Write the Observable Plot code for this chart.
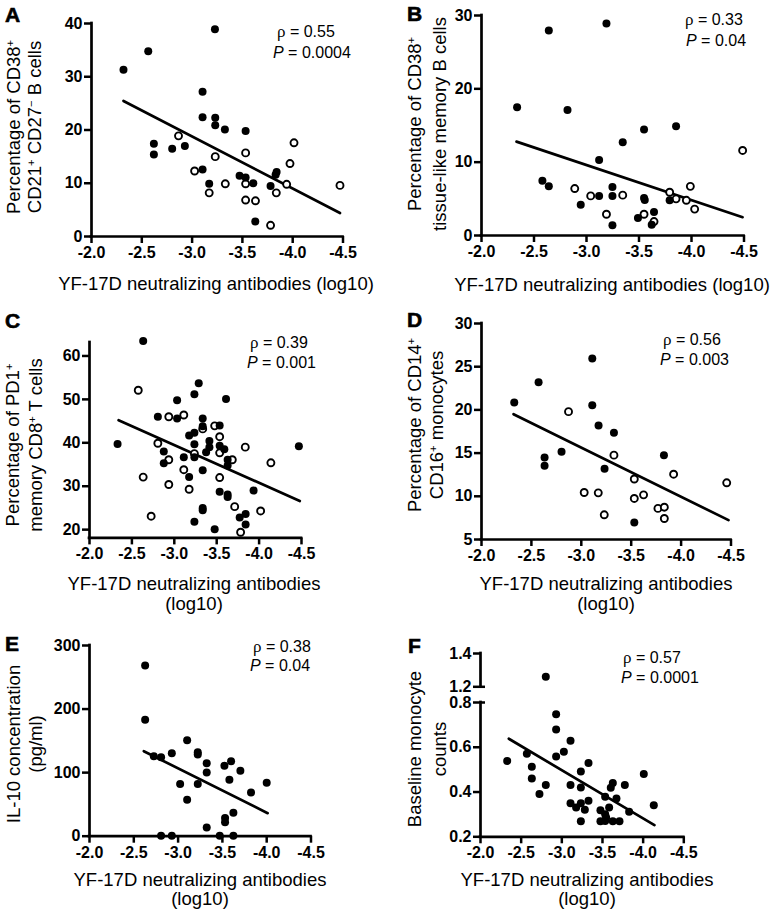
<!DOCTYPE html>
<html><head><meta charset="utf-8">
<script src="https://cdn.jsdelivr.net/npm/d3@7"></script>
<script src="https://cdn.jsdelivr.net/npm/@observablehq/plot@0.6"></script>
<style>
html,body{margin:0;padding:0;background:#fff;}
#fig{position:relative;width:778px;height:915px;overflow:hidden;background:#fff;font-family:"Liberation Sans",Arial,Helvetica,sans-serif;}
.panel{position:absolute;}
.panel svg{overflow:visible;background:transparent;}
.panel svg text{font-family:"Liberation Sans",Arial,sans-serif !important;font-weight:700 !important;font-size:16px !important;fill:#000;}
.panel svg [aria-label$="axis tick"], .panel svg .tick line{stroke-width:2.5px;stroke:#000;}
#overlay{position:absolute;left:0;top:0;pointer-events:none;}
</style></head><body><div id="fig"></div>
<script>
// ---------- data ----------
const xTicks = [-2, -2.5, -3, -3.5, -4, -4.5];

const aFilled = [[-3.227,38.9],[-2.564,34.8],[-2.318,31.3],[-3.104,27.2],[-3.104,22.4],[-3.23,22.3],[-3.23,20.9],[-3.326,20.1],[-3.532,19.8],[-2.62,17.4],[-2.62,15.4],[-2.802,16.5],[-2.928,17.0],[-3.104,12.6],[-3.472,11.4],[-3.532,11.1],[-3.608,10.0],[-3.17,9.9],[-3.78,9.5],[-3.83,11.6],[-3.84,12.1],[-3.628,2.8]];
const aOpen = [[-2.865,18.9],[-3.23,15.0],[-3.532,15.7],[-4.013,17.6],[-3.973,13.7],[-3.025,12.3],[-3.33,9.9],[-3.532,9.9],[-3.17,8.2],[-3.837,8.2],[-3.94,9.8],[-4.47,9.6],[-3.532,6.85],[-3.63,6.7],[-3.78,2.1]];
const aFit = [[-2.318,25.45],[-4.47,4.41]];
const aYTicks = [0,10,20,30,40];

const bFilled = [[-3.19,28.9],[-2.641,27.95],[-2.339,17.5],[-2.819,17.1],[-3.853,14.9],[-3.548,14.45],[-3.345,12.7],[-3.12,10.3],[-2.58,7.45],[-2.641,6.7],[-3.247,6.6],[-3.12,5.4],[-3.247,5.4],[-3.548,5.1],[-3.555,4.85],[-2.945,4.2],[-3.792,4.8],[-3.643,3.2],[-3.49,2.4],[-3.247,1.4],[-3.621,1.45]];
const bOpen = [[-4.487,11.6],[-2.888,6.4],[-3.04,5.4],[-3.345,5.5],[-3.792,5.9],[-3.853,5.0],[-3.951,4.8],[-3.989,6.7],[-4.03,3.6],[-3.19,2.9],[-3.548,2.9],[-3.643,1.9]];
const bFit = [[-2.333,12.8],[-4.487,2.5]];
const bYTicks = [0,10,20,30];

const cFilled = [[-2.633,63.45],[-3.288,53.7],[-3.237,51.2],[-3.033,49.8],[-3.61,50.1],[-2.806,46.0],[-3.033,45.6],[-3.335,45.6],[-3.335,43.8],[-3.535,44.0],[-3.175,41.7],[-3.237,42.3],[-2.331,39.7],[-4.469,39.2],[-3.414,40.4],[-3.414,39.0],[-3.237,39.65],[-3.535,39.3],[-3.59,38.5],[-3.375,37.8],[-2.876,38.0],[-3.112,36.7],[-3.237,36.7],[-2.876,35.3],[-3.629,36.1],[-3.629,34.8],[-3.335,33.7],[-3.175,32.1],[-3.935,29.0],[-3.535,28.7],[-3.629,28.1],[-3.629,27.5],[-3.335,25.0],[-3.335,24.45],[-3.841,23.6],[-3.771,22.8],[-3.841,21.2],[-3.237,21.8],[-3.476,20.1]];
const cOpen = [[-2.575,52.1],[-2.935,46.0],[-3.112,46.4],[-3.335,43.2],[-3.476,43.9],[-3.535,41.4],[-2.806,39.9],[-3.837,39.0],[-3.535,37.7],[-3.237,37.5],[-2.935,36.1],[-3.684,36.1],[-4.139,35.4],[-3.112,33.8],[-2.633,32.1],[-2.935,30.4],[-3.535,32.0],[-3.175,29.3],[-3.712,25.3],[-4.018,24.3],[-2.727,23.1],[-3.782,19.4]];
const cFit = [[-2.343,45.2],[-4.48,26.6]];
const cYTicks = [20,30,40,50,60];

const dFilled = [[-3.11,25.95],[-2.572,23.2],[-2.328,20.85],[-3.11,20.55],[-3.173,18.2],[-3.327,17.35],[-2.802,15.15],[-2.632,14.5],[-2.632,13.55],[-3.828,14.75],[-3.233,13.2],[-3.531,6.97]];
const dOpen = [[-2.872,19.8],[-3.327,14.76],[-3.925,12.56],[-3.531,12.0],[-4.457,11.56],[-3.029,10.44],[-3.17,10.4],[-3.624,10.17],[-3.531,9.75],[-3.768,8.6],[-3.832,8.74],[-3.23,7.86],[-3.832,7.43]];
const dFit = [[-2.321,19.5],[-4.475,7.24]];
const dYTicks = [5,10,15,20,25,30];

const eFilled = [[-2.628,268.5],[-2.628,183],[-2.726,125.9],[-2.808,124.3],[-2.929,130.6],[-3.102,151],[-3.222,132.2],[-3.222,128.5],[-3.323,114.9],[-3.323,100.2],[-3.023,82.3],[-3.222,82.3],[-3.102,57.2],[-3.523,110.7],[-3.598,118],[-3.703,102.8],[-3.579,88.6],[-3.823,68.7],[-4.0,83.9],[-3.624,36.7],[-3.53,28.8],[-3.53,22.0],[-3.323,13.6],[-2.808,0.5],[-2.929,0.5],[-3.47,0.5],[-3.624,0.5]];
const eOpen = [];
const eFit = [[-2.613,133.7],[-4.011,36.2]];
const eYTicks = [0,100,200,300];

const fFilled = [[-2.803,1.26],[-2.93,0.748],[-2.93,0.679],[-3.107,0.629],[-3.025,0.58],[-2.93,0.559],[-2.328,0.539],[-2.57,0.571],[-2.631,0.513],[-2.631,0.461],[-2.803,0.431],[-2.725,0.391],[-3.328,0.53],[-3.234,0.492],[-3.107,0.431],[-3.234,0.42],[-3.107,0.35],[-3.234,0.35],[-3.176,0.331],[-3.283,0.321],[-3.328,0.361],[-3.234,0.27],[-3.533,0.379],[-3.475,0.319],[-3.533,0.301],[-3.582,0.331],[-3.545,0.286],[-3.475,0.27],[-3.533,0.271],[-3.602,0.419],[-3.627,0.44],[-3.672,0.371],[-3.627,0.27],[-3.709,0.27],[-3.775,0.431],[-3.828,0.312],[-4.008,0.48],[-4.131,0.341]];
const fOpen = [];
const fFit = [[-2.348,0.638],[-4.139,0.252]];
const fYTicks = [0.2,0.4,0.6,0.8,1.2,1.4];

const panelLetters = ["A","B","C","D","E","F"];
const rhoValues = ["0.55","0.33","0.39","0.56","0.38","0.57"];
const pValues = ["0.0004","0.04","0.001","0.003","0.04","0.0001"];
const yTitles = [
  ["Percentage of CD38^+", "CD21^+ CD27^− B cells"],
  ["Percentage of CD38^+", "tissue-like memory B cells"],
  ["Percentage of PD1^+", "memory CD8^+ T cells"],
  ["Percentage of CD14^+", "CD16^+ monocytes"],
  ["IL-10 concentration", "(pg/ml)"],
  ["Baseline monocyte", "counts"]
];
const xTitleLines = [
  ["YF-17D neutralizing antibodies (log10)"],
  ["YF-17D neutralizing antibodies (log10)"],
  ["YF-17D neutralizing antibodies", "(log10)"],
  ["YF-17D neutralizing antibodies", "(log10)"],
  ["YF-17D neutralizing antibodies", "(log10)"],
  ["YF-17D neutralizing antibodies", "(log10)"]
];

// ---------- layout ----------
const intFmt = d => String(d);
const dec1 = d => d.toFixed(1);
const panels = [
  {filled:aFilled, open:aOpen, fit:aFit, yTicks:aYTicks, yFmt:intFmt, x0:90.5, x1:342, yDomain:[0,40], yRangeAbs:[235.5,22.5],
   letter:[5,22], yt:{c:[19.7,41.4], cy:127}, xt:{cx:216, bl:[290]}, st:{rho:[277,37], p:[273,58]}},
  {filled:bFilled, open:bOpen, fit:bFit, yTicks:bYTicks, yFmt:intFmt, x0:481, x1:743.5, yDomain:[0,30], yRangeAbs:[235,15],
   letter:[407,21], yt:{c:[421.4,445.7], cy:124}, xt:{cx:612, bl:[291]}, st:{rho:[685,25], p:[686,46]}},
  {filled:cFilled, open:cOpen, fit:cFit, yTicks:cYTicks, yFmt:intFmt, x0:89, x1:301, yDomain:[18.1,63.1], yRangeAbs:[537.7,342.3],
   letter:[5,328], yt:{c:[18.7,41.7], cy:445}, xt:{cx:194, bl:[590,610]}, st:{rho:[250,348], p:[247,368]}},
  {filled:dFilled, open:dOpen, fit:dFit, yTicks:dYTicks, yFmt:intFmt, x0:481, x1:730.5, yDomain:[5,30], yRangeAbs:[539.3,323.3],
   letter:[407,327], yt:{c:[420.7,442.7], cy:425}, xt:{cx:606, bl:[590,610]}, st:{rho:[663,345], p:[660,365]}},
  {filled:eFilled, open:eOpen, fit:eFit, yTicks:eYTicks, yFmt:intFmt, x0:88.5, x1:310, yDomain:[0,300], yRangeAbs:[835.7,645],
   letter:[5,651], yt:{c:[19.7,41.7], cy:744}, xt:{cx:200, bl:[886,905]}, st:{rho:[253,652], p:[250,671]}},
  {filled:fFilled, open:fOpen, fit:fFit, yTicks:fYTicks, yFmt:dec1, x0:480, x1:683.3, yDomain:[0.2,0.8,1.2,1.4], yRangeAbs:[836,701.7,686,652.7],
   segments:[[0.2,0.8],[1.2,1.4]], breaks:[0.8,1.2],
   letter:[408,653], yt:{c:[420.7,445.7], cy:749}, xt:{cx:587, bl:[886,905]}, st:{rho:[623,663], p:[621,683]}}
];

const fig = document.getElementById("fig");
const X = d => d[0], Y = d => d[1];

panels.forEach(p => {
  const mL = 50, mR = 22, mT = 12, mB = 36;
  const w = p.x1 - p.x0;
  const yTop = d3.min(p.yRangeAbs), yBot = d3.max(p.yRangeAbs);
  const h = yBot - yTop;
  const left = p.x0 - mL, top = yTop - mT;
  const yRange = p.yRangeAbs.map(v => v - top);
  const yMin = p.yDomain[0], yMax = p.yDomain[p.yDomain.length - 1];
  const segs = p.segments || [[yMin, yMax]];
  const marks = [
    Plot.ruleX(segs, {x: () => xTicks[0], y1: d => d[0], y2: d => d[1], stroke: "black", strokeWidth: 2.7, strokeLinecap: "square"}),
    Plot.ruleY([yMin], {y: d => d, x1: () => xTicks[0], x2: () => xTicks[xTicks.length - 1], stroke: "black", strokeWidth: 2.7, strokeLinecap: "square"}),
    Plot.line(p.fit, {x: X, y: Y, stroke: "black", strokeWidth: 2.7}),
    Plot.dot(p.open, {x: X, y: Y, r: 3.5, fill: "white", stroke: "black", strokeWidth: 1.9}),
    Plot.dot(p.filled, {x: X, y: Y, r: 4, fill: "black", stroke: "none"})
  ];
  if (p.breaks) {
    marks.push(Plot.ruleY(p.breaks, {y: d => d, x1: () => xTicks[0], x2: () => xTicks[0], insetRight: -5, stroke: "black", strokeWidth: 2.5}));
  }
  const chart = Plot.plot({
    width: mL + w + mR, height: mT + h + mB,
    marginLeft: mL, marginRight: mR, marginTop: mT, marginBottom: mB,
    x: {type: "linear", domain: [xTicks[0], xTicks[xTicks.length - 1]], range: [mL, mL + w], ticks: xTicks, tickFormat: dec1, tickSize: 7, tickPadding: 3, label: null},
    y: {type: "linear", domain: p.yDomain, range: yRange, ticks: p.yTicks, tickFormat: p.yFmt, tickSize: 7, tickPadding: 2, label: null},
    style: {fontFamily: "'Liberation Sans', Arial, sans-serif", fontSize: "16px", fontWeight: "bold", color: "black", background: "transparent", overflow: "visible"},
    marks
  });
  const holder = document.createElement("div");
  holder.className = "panel";
  holder.style.left = left + "px";
  holder.style.top = top + "px";
  holder.appendChild(chart);
  fig.appendChild(holder);
});

// ---------- text overlay ----------
const svg = d3.select(fig).append("svg").attr("id", "overlay")
  .attr("width", 778).attr("height", 915)
  .style("font-family", "'Liberation Sans', Arial, Helvetica, sans-serif");

function rich(sel, str) {
  const parts = str.split(/\^(.)/);
  parts.forEach((s, i) => {
    if (!s) return;
    if (i % 2 === 1) sel.append("tspan").attr("baseline-shift", "super").attr("font-size", "0.6em").text(s);
    else sel.append("tspan").text(s);
  });
}

panels.forEach((p, i) => {
  svg.append("text").attr("x", p.letter[0]).attr("y", p.letter[1])
    .attr("font-size", 21).attr("font-weight", "bold").attr("stroke", "black").attr("stroke-width", 0.6)
    .text(panelLetters[i]);
  yTitles[i].forEach((line, j) => {
    const t = svg.append("text")
      .attr("transform", `translate(${p.yt.c[j]},${p.yt.cy}) rotate(-90)`)
      .attr("text-anchor", "middle").attr("font-size", 18.5);
    rich(t, line);
  });
  xTitleLines[i].forEach((line, j) => {
    svg.append("text").attr("x", p.xt.cx).attr("y", p.xt.bl[j])
      .attr("text-anchor", "middle").attr("font-size", 18.5).text(line);
  });
  const r = svg.append("text").attr("x", p.st.rho[0]).attr("y", p.st.rho[1]).attr("font-size", 16);
  r.append("tspan").attr("font-family", "'Liberation Serif', 'Times New Roman', serif").attr("font-size", 17).text("ρ");
  r.append("tspan").text(" = " + rhoValues[i]);
  const q = svg.append("text").attr("x", p.st.p[0]).attr("y", p.st.p[1]).attr("font-size", 16);
  q.append("tspan").attr("font-style", "italic").text("P");
  q.append("tspan").text(" = " + pValues[i]);
});
</script></body></html>
